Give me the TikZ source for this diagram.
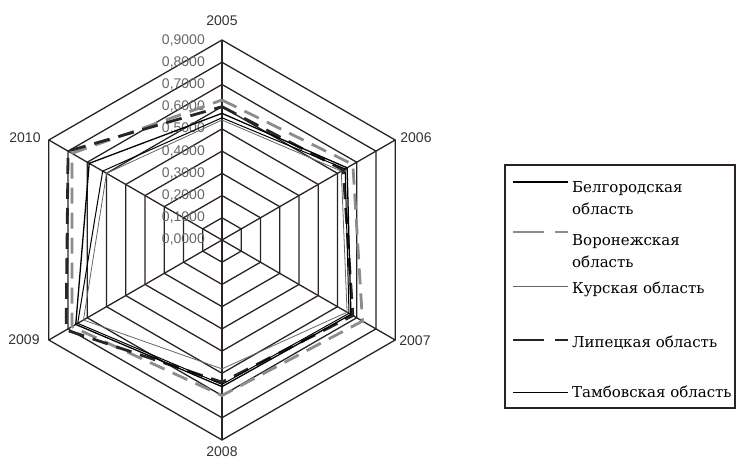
\documentclass[tikz,border=0pt]{standalone}
\usepackage{fontspec}
\setmainfont{DejaVu Serif}
\setsansfont{Liberation Sans}
\usepackage{xcolor}
\usepackage{tikz}

\definecolor{gridcol}{HTML}{2B2322}
\definecolor{lblcol}{HTML}{666666}
\definecolor{vorcol}{HTML}{8C8C8C}
\newcommand{\polR}{222.2}

\begin{document}
\begin{tikzpicture}[x=1pt, y=1pt,
    grid/.style={draw=gridcol, line width=1.3pt},
    yearlbl/.style={font=\sffamily\fontsize{14}{14}\selectfont, text=black!80, inner sep=0pt},
    scalelbl/.style={font=\sffamily\fontsize{14}{14}\selectfont, text=lblcol, anchor=east, inner sep=0pt},
    belg/.style={draw=black, line width=1.3pt},
    voron/.style={draw=vorcol, line width=2.8pt, dash pattern=on 16pt off 9pt},
    kursk/.style={draw=black!60, line width=0.8pt},
    lipet/.style={draw=black!85, line width=2.8pt, dash pattern=on 16pt off 9pt},
    tamb/.style={draw=black, line width=1pt},
    legtext/.style={font=\fontsize{15}{22}\selectfont, align=left, inner sep=0pt}]
    \useasboundingbox (0,0) rectangle (737,-462);

    \coordinate (O) at (222,-240);
    \begin{scope}[shift={(O)}]
      \foreach \k in {1,...,9}
        \draw[grid] (90:{\k*22.22}) -- (30:{\k*22.22}) -- (-30:{\k*22.22}) -- (-90:{\k*22.22}) -- (-150:{\k*22.22}) -- (150:{\k*22.22}) -- cycle;
      \foreach \a in {90,30,-30,-90,-150,150}
        \draw[grid] (0,0) -- (\a:200);
      \foreach \k in {0,...,9}
        \node[scalelbl] (s\k) at (-17,{\k*22.22}) {0,\k000};

      \draw[voron] (90:{0.63*\polR}) -- (30:{0.68*\polR}) -- (-30:{0.73*\polR}) -- (-90:{0.70*\polR}) -- (-150:{0.78*\polR}) -- (150:{0.78*\polR}) -- cycle;
      \draw[lipet] (90:{0.60*\polR}) -- (30:{0.63*\polR}) -- (-30:{0.68*\polR}) -- (-90:{0.64*\polR}) -- (-150:{0.81*\polR}) -- (150:{0.80*\polR}) -- cycle;
      \draw[belg] (90:{0.57*\polR}) -- (30:{0.65*\polR}) -- (-30:{0.67*\polR}) -- (-90:{0.66*\polR}) -- (-150:{0.76*\polR}) -- (150:{0.69*\polR}) -- cycle;
      \draw[kursk] (90:{0.54*\polR}) -- (30:{0.62*\polR}) -- (-30:{0.65*\polR}) -- (-90:{0.58*\polR}) -- (-150:{0.72*\polR}) -- (150:{0.60*\polR}) -- cycle;
      \draw[tamb] (90:{0.55*\polR}) -- (30:{0.64*\polR}) -- (-30:{0.66*\polR}) -- (-90:{0.65*\polR}) -- (-150:{0.75*\polR}) -- (150:{0.62*\polR}) -- cycle;
    \end{scope}

    \node[yearlbl] (y2005) at (222,-21) {2005};
    \node[yearlbl] (y2006) at (416,-138) {2006};
    \node[yearlbl] (y2007) at (415,-341) {2007};
    \node[yearlbl] (y2008) at (222,-452) {2008};
    \node[yearlbl] (y2009) at (24,-340) {2009};
    \node[yearlbl] (y2010) at (25,-138) {2010};

    \draw[draw=gridcol, line width=1.2pt] (505,-165) rectangle (735,-408);

    \coordinate (l1a) at (513,-182); \coordinate (l1b) at (568,-182);
    \coordinate (l2a) at (513,-232); \coordinate (l2b) at (568,-232);
    \coordinate (l3a) at (513,-286); \coordinate (l3b) at (568,-286);
    \coordinate (l4a) at (513,-340); \coordinate (l4b) at (568,-340);
    \coordinate (l5a) at (513,-393); \coordinate (l5b) at (568,-393);
    \draw[belg] (l1a) -- (l1b);
    \draw[voron, dash pattern=on 31pt off 11pt] (l2a) -- (l2b);
    \draw[kursk] (l3a) -- (l3b);
    \draw[lipet, dash pattern=on 31pt off 11pt] (l4a) -- (l4b);
    \draw[tamb] (l5a) -- (l5b);

    \node[legtext, anchor=north west] (t1) at (572,-181) {Белгородская\\область};
    \node[legtext, anchor=north west] (t2) at (572,-234) {Воронежская\\область};
    \node[legtext, anchor=base west] (t3) at (572,-294) {Курская область};
    \node[legtext, anchor=base west] (t4) at (572,-348) {Липецкая область};
    \node[legtext, anchor=base west] (t5) at (572,-398) {Тамбовская область};
\end{tikzpicture}
\end{document}
